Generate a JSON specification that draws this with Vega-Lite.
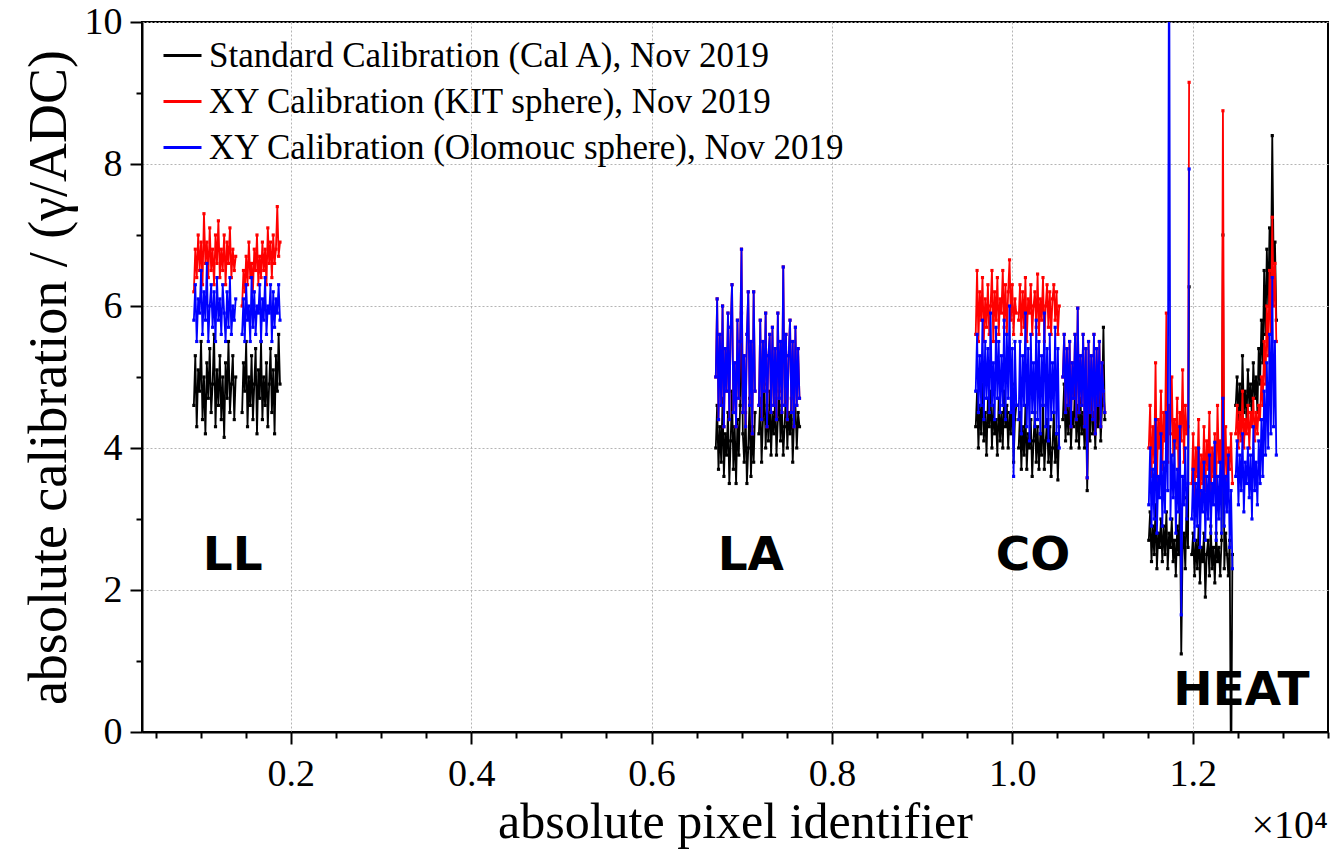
{
"$schema": "https://vega.github.io/schema/vega-lite/v6.json",
"width": 1186, "height": 710,
"autosize": {"type": "none"},
"padding": {"left": 142, "top": 22, "right": 13, "bottom": 128},
"background": "white",
"config": {"view": {"stroke": "black", "strokeWidth": 2}, "font": "Liberation Serif"},
"datasets": {"cal": [
{"s":"LL1","x":925,"k":4.6,"r":6.2,"b":5.8},{"s":"LL1","x":941,"k":5.3,"r":6.8,"b":6.3},{"s":"LL1","x":957,"k":4.3,"r":6.4,"b":5.5},{"s":"LL1","x":973,"k":5.1,"r":7.0,"b":6.1},{"s":"LL1","x":989,"k":4.8,"r":6.5,"b":5.9},{"s":"LL1","x":1005,"k":5.5,"r":6.9,"b":6.5},{"s":"LL1","x":1021,"k":4.4,"r":6.3,"b":5.6},{"s":"LL1","x":1037,"k":5.0,"r":7.3,"b":6.2},{"s":"LL1","x":1053,"k":4.2,"r":6.6,"b":5.8},{"s":"LL1","x":1069,"k":5.2,"r":6.9,"b":6.6},
{"s":"LL1","x":1085,"k":4.7,"r":6.4,"b":5.5},{"s":"LL1","x":1101,"k":5.4,"r":7.1,"b":6.0},{"s":"LL1","x":1117,"k":4.5,"r":6.5,"b":6.3},{"s":"LL1","x":1133,"k":4.9,"r":6.8,"b":5.7},{"s":"LL1","x":1149,"k":5.6,"r":6.3,"b":6.2},{"s":"LL1","x":1165,"k":4.3,"r":7.0,"b":5.5},{"s":"LL1","x":1181,"k":5.1,"r":6.6,"b":6.4},{"s":"LL1","x":1197,"k":4.6,"r":7.2,"b":5.8},{"s":"LL1","x":1213,"k":5.3,"r":6.4,"b":6.1},{"s":"LL1","x":1229,"k":4.4,"r":6.8,"b":5.6},
{"s":"LL1","x":1245,"k":5.0,"r":6.5,"b":6.3},{"s":"LL1","x":1261,"k":4.15,"r":7.0,"b":5.9},{"s":"LL1","x":1277,"k":5.2,"r":6.3,"b":5.5},{"s":"LL1","x":1293,"k":4.7,"r":6.9,"b":6.2},{"s":"LL1","x":1309,"k":5.5,"r":6.6,"b":5.7},{"s":"LL1","x":1325,"k":4.5,"r":7.1,"b":6.4},{"s":"LL1","x":1341,"k":4.9,"r":6.4,"b":5.6},{"s":"LL1","x":1357,"k":5.3,"r":6.8,"b":6.0},{"s":"LL1","x":1373,"k":4.4,"r":6.5,"b":5.8},{"s":"LL1","x":1389,"k":5.0,"r":6.7,"b":6.1},
{"s":"LL2","x":1460,"k":4.5,"r":6.0,"b":5.6},{"s":"LL2","x":1475,"k":5.2,"r":6.5,"b":6.1},{"s":"LL2","x":1490,"k":4.8,"r":6.2,"b":5.5},{"s":"LL2","x":1505,"k":5.5,"r":6.7,"b":6.3},{"s":"LL2","x":1520,"k":4.3,"r":6.3,"b":5.8},{"s":"LL2","x":1535,"k":5.0,"r":6.9,"b":6.0},{"s":"LL2","x":1550,"k":4.6,"r":6.4,"b":5.5},{"s":"LL2","x":1565,"k":5.3,"r":6.6,"b":6.4},{"s":"LL2","x":1580,"k":4.4,"r":6.2,"b":5.7},{"s":"LL2","x":1595,"k":4.9,"r":6.8,"b":6.2},
{"s":"LL2","x":1610,"k":5.4,"r":6.5,"b":5.6},{"s":"LL2","x":1625,"k":4.2,"r":7.0,"b":6.0},{"s":"LL2","x":1640,"k":5.1,"r":6.3,"b":5.9},{"s":"LL2","x":1655,"k":4.7,"r":6.7,"b":6.3},{"s":"LL2","x":1670,"k":5.5,"r":6.4,"b":5.5},{"s":"LL2","x":1685,"k":4.4,"r":6.9,"b":6.1},{"s":"LL2","x":1700,"k":5.0,"r":6.5,"b":5.8},{"s":"LL2","x":1715,"k":4.6,"r":6.8,"b":6.4},{"s":"LL2","x":1730,"k":5.2,"r":6.3,"b":5.6},{"s":"LL2","x":1745,"k":4.3,"r":7.1,"b":6.0},
{"s":"LL2","x":1760,"k":4.9,"r":6.6,"b":5.9},{"s":"LL2","x":1775,"k":5.4,"r":6.9,"b":6.3},{"s":"LL2","x":1790,"k":4.5,"r":6.4,"b":5.5},{"s":"LL2","x":1805,"k":5.1,"r":7.0,"b":6.2},{"s":"LL2","x":1820,"k":4.2,"r":6.6,"b":5.7},{"s":"LL2","x":1835,"k":5.3,"r":6.8,"b":6.1},{"s":"LL2","x":1850,"k":4.8,"r":7.4,"b":5.9},{"s":"LL2","x":1865,"k":5.6,"r":6.7,"b":6.3},{"s":"LL2","x":1880,"k":4.9,"r":6.9,"b":5.8},
{"s":"LA1","x":6712,"k":4.0,"r":5.0,"b":5.0},{"s":"LA1","x":6727,"k":4.6,"r":6.1,"b":6.1},{"s":"LA1","x":6742,"k":3.7,"r":4.4,"b":4.4},{"s":"LA1","x":6757,"k":4.3,"r":5.6,"b":5.6},{"s":"LA1","x":6772,"k":3.8,"r":4.6,"b":4.6},{"s":"LA1","x":6787,"k":4.7,"r":6.0,"b":6.0},{"s":"LA1","x":6802,"k":3.6,"r":4.3,"b":4.3},{"s":"LA1","x":6817,"k":4.2,"r":5.4,"b":5.4},{"s":"LA1","x":6832,"k":3.9,"r":4.8,"b":4.8},{"s":"LA1","x":6847,"k":4.5,"r":5.9,"b":5.9},
{"s":"LA1","x":6862,"k":3.5,"r":4.4,"b":4.4},{"s":"LA1","x":6877,"k":4.1,"r":5.7,"b":5.7},{"s":"LA1","x":6892,"k":4.8,"r":6.3,"b":6.3},{"s":"LA1","x":6907,"k":3.7,"r":4.5,"b":4.5},{"s":"LA1","x":6922,"k":4.3,"r":5.2,"b":5.2},{"s":"LA1","x":6937,"k":3.5,"r":4.3,"b":4.3},{"s":"LA1","x":6952,"k":4.4,"r":5.8,"b":5.8},{"s":"LA1","x":6967,"k":3.9,"r":4.7,"b":4.7},{"s":"LA1","x":6982,"k":4.6,"r":5.5,"b":5.5},{"s":"LA1","x":6997,"k":5.9,"r":6.8,"b":6.8},
{"s":"LA1","x":7012,"k":4.2,"r":4.5,"b":4.5},{"s":"LA1","x":7027,"k":3.8,"r":5.3,"b":5.3},{"s":"LA1","x":7042,"k":4.5,"r":4.3,"b":4.3},{"s":"LA1","x":7057,"k":3.5,"r":5.6,"b":5.6},{"s":"LA1","x":7072,"k":4.0,"r":6.2,"b":6.2},{"s":"LA1","x":7087,"k":4.7,"r":4.6,"b":4.6},{"s":"LA1","x":7102,"k":3.6,"r":5.5,"b":5.5},{"s":"LA1","x":7117,"k":4.3,"r":4.2,"b":4.2},{"s":"LA1","x":7132,"k":3.8,"r":6.2,"b":6.2},{"s":"LA1","x":7147,"k":4.5,"r":4.8,"b":4.8},
{"s":"LA2","x":7190,"k":4.2,"r":4.6,"b":4.6},{"s":"LA2","x":7205,"k":4.7,"r":5.8,"b":5.8},{"s":"LA2","x":7220,"k":3.8,"r":4.4,"b":4.4},{"s":"LA2","x":7235,"k":4.4,"r":5.5,"b":5.5},{"s":"LA2","x":7250,"k":4.9,"r":4.8,"b":4.8},{"s":"LA2","x":7265,"k":4.0,"r":5.9,"b":5.9},{"s":"LA2","x":7280,"k":4.6,"r":4.3,"b":4.3},{"s":"LA2","x":7295,"k":4.1,"r":5.3,"b":5.3},{"s":"LA2","x":7310,"k":4.8,"r":5.6,"b":5.6},{"s":"LA2","x":7325,"k":3.9,"r":4.5,"b":4.5},
{"s":"LA2","x":7340,"k":4.5,"r":5.7,"b":5.7},{"s":"LA2","x":7355,"k":4.2,"r":4.6,"b":4.6},{"s":"LA2","x":7370,"k":4.7,"r":5.4,"b":5.4},{"s":"LA2","x":7385,"k":3.9,"r":4.4,"b":4.4},{"s":"LA2","x":7400,"k":4.4,"r":5.9,"b":5.9},{"s":"LA2","x":7415,"k":4.8,"r":4.7,"b":4.7},{"s":"LA2","x":7430,"k":4.1,"r":5.5,"b":5.5},{"s":"LA2","x":7445,"k":4.6,"r":4.5,"b":4.5},{"s":"LA2","x":7460,"k":3.9,"r":6.55,"b":6.55},{"s":"LA2","x":7475,"k":4.3,"r":4.6,"b":4.6},
{"s":"LA2","x":7490,"k":4.8,"r":5.6,"b":5.6},{"s":"LA2","x":7505,"k":4.0,"r":4.4,"b":4.4},{"s":"LA2","x":7520,"k":4.5,"r":5.3,"b":5.3},{"s":"LA2","x":7535,"k":4.2,"r":5.8,"b":5.8},{"s":"LA2","x":7550,"k":4.7,"r":4.5,"b":4.5},{"s":"LA2","x":7565,"k":3.8,"r":5.5,"b":5.5},{"s":"LA2","x":7580,"k":4.4,"r":4.3,"b":4.3},{"s":"LA2","x":7595,"k":4.6,"r":5.7,"b":5.7},{"s":"LA2","x":7610,"k":4.0,"r":4.6,"b":4.6},{"s":"LA2","x":7625,"k":4.5,"r":5.4,"b":5.4},{"s":"LA2","x":7640,"k":4.3,"r":4.7,"b":4.7},
{"s":"CO1","x":9594,"k":4.3,"r":5.6,"b":4.8},{"s":"CO1","x":9609,"k":4.8,"r":6.5,"b":5.6},{"s":"CO1","x":9624,"k":4.0,"r":5.5,"b":4.5},{"s":"CO1","x":9639,"k":4.6,"r":6.2,"b":5.3},{"s":"CO1","x":9654,"k":4.2,"r":5.8,"b":4.6},{"s":"CO1","x":9669,"k":4.9,"r":6.4,"b":5.8},{"s":"CO1","x":9684,"k":4.1,"r":5.5,"b":4.4},{"s":"CO1","x":9699,"k":4.5,"r":6.1,"b":5.5},{"s":"CO1","x":9714,"k":3.9,"r":5.7,"b":4.7},{"s":"CO1","x":9729,"k":4.7,"r":6.3,"b":5.4},
{"s":"CO1","x":9744,"k":4.3,"r":5.6,"b":4.5},{"s":"CO1","x":9759,"k":4.8,"r":6.0,"b":5.9},{"s":"CO1","x":9774,"k":4.0,"r":6.5,"b":4.6},{"s":"CO1","x":9789,"k":4.6,"r":5.5,"b":5.2},{"s":"CO1","x":9804,"k":4.2,"r":6.2,"b":4.4},{"s":"CO1","x":9819,"k":4.4,"r":5.8,"b":5.7},{"s":"CO1","x":9834,"k":3.9,"r":6.4,"b":4.7},{"s":"CO1","x":9849,"k":4.7,"r":5.6,"b":5.5},{"s":"CO1","x":9864,"k":4.1,"r":6.1,"b":4.5},{"s":"CO1","x":9879,"k":4.5,"r":5.9,"b":5.3},
{"s":"CO1","x":9894,"k":4.0,"r":6.5,"b":4.6},{"s":"CO1","x":9909,"k":4.8,"r":5.7,"b":5.8},{"s":"CO1","x":9924,"k":4.3,"r":6.3,"b":4.4},{"s":"CO1","x":9939,"k":4.6,"r":5.6,"b":5.6},{"s":"CO1","x":9954,"k":4.0,"r":6.2,"b":4.7},{"s":"CO1","x":9969,"k":4.5,"r":6.65,"b":6.0},{"s":"CO1","x":9984,"k":4.2,"r":5.8,"b":4.5},{"s":"CO1","x":9999,"k":4.9,"r":6.3,"b":5.4},{"s":"CO1","x":10014,"k":3.8,"r":5.6,"b":3.6},{"s":"CO1","x":10029,"k":4.4,"r":6.1,"b":5.5},{"s":"CO1","x":10044,"k":4.6,"r":5.9,"b":4.6},
{"s":"CO2","x":10070,"k":4.0,"r":5.8,"b":4.4},{"s":"CO2","x":10085,"k":4.5,"r":6.3,"b":5.5},{"s":"CO2","x":10100,"k":3.7,"r":5.6,"b":4.2},{"s":"CO2","x":10115,"k":4.3,"r":6.2,"b":5.3},{"s":"CO2","x":10130,"k":3.9,"r":5.7,"b":4.6},{"s":"CO2","x":10145,"k":4.6,"r":6.4,"b":5.9},{"s":"CO2","x":10160,"k":3.7,"r":5.5,"b":4.3},{"s":"CO2","x":10175,"k":4.2,"r":6.1,"b":5.4},{"s":"CO2","x":10190,"k":4.0,"r":5.9,"b":4.1},{"s":"CO2","x":10205,"k":4.4,"r":6.3,"b":5.6},
{"s":"CO2","x":10220,"k":3.6,"r":5.6,"b":4.5},{"s":"CO2","x":10235,"k":4.1,"r":6.0,"b":5.2},{"s":"CO2","x":10250,"k":4.5,"r":6.2,"b":4.3},{"s":"CO2","x":10265,"k":3.8,"r":5.7,"b":5.8},{"s":"CO2","x":10280,"k":4.3,"r":6.45,"b":4.4},{"s":"CO2","x":10295,"k":3.7,"r":5.6,"b":5.5},{"s":"CO2","x":10310,"k":4.2,"r":6.1,"b":4.2},{"s":"CO2","x":10325,"k":3.9,"r":5.8,"b":5.3},{"s":"CO2","x":10340,"k":4.6,"r":6.4,"b":4.6},{"s":"CO2","x":10355,"k":3.7,"r":5.5,"b":5.9},
{"s":"CO2","x":10370,"k":4.1,"r":6.0,"b":4.3},{"s":"CO2","x":10385,"k":4.4,"r":6.3,"b":5.4},{"s":"CO2","x":10400,"k":3.8,"r":5.7,"b":4.1},{"s":"CO2","x":10415,"k":4.3,"r":6.2,"b":5.6},{"s":"CO2","x":10430,"k":3.6,"r":5.6,"b":4.4},{"s":"CO2","x":10445,"k":4.0,"r":6.1,"b":5.2},{"s":"CO2","x":10460,"k":4.5,"r":6.3,"b":4.5},{"s":"CO2","x":10475,"k":3.8,"r":5.8,"b":5.7},{"s":"CO2","x":10490,"k":4.2,"r":6.2,"b":4.2},{"s":"CO2","x":10505,"k":3.55,"r":5.6,"b":5.4},{"s":"CO2","x":10520,"k":4.3,"r":6.0,"b":4.0},
{"s":"CO3","x":10560,"k":4.4,"r":5.0,"b":5.0},{"s":"CO3","x":10575,"k":4.9,"r":5.6,"b":5.6},{"s":"CO3","x":10590,"k":4.1,"r":4.5,"b":4.5},{"s":"CO3","x":10605,"k":4.6,"r":5.4,"b":5.4},{"s":"CO3","x":10620,"k":4.2,"r":4.6,"b":4.6},{"s":"CO3","x":10635,"k":4.8,"r":5.5,"b":5.5},{"s":"CO3","x":10650,"k":4.0,"r":4.3,"b":4.3},{"s":"CO3","x":10665,"k":4.5,"r":5.2,"b":5.2},{"s":"CO3","x":10680,"k":4.3,"r":4.7,"b":4.7},{"s":"CO3","x":10695,"k":4.9,"r":5.6,"b":5.6},
{"s":"CO3","x":10710,"k":4.1,"r":4.4,"b":4.4},{"s":"CO3","x":10725,"k":4.6,"r":5.97,"b":5.97},{"s":"CO3","x":10740,"k":4.0,"r":4.5,"b":4.5},{"s":"CO3","x":10755,"k":4.7,"r":5.3,"b":5.3},{"s":"CO3","x":10770,"k":4.2,"r":4.6,"b":4.6},{"s":"CO3","x":10785,"k":4.5,"r":5.6,"b":5.6},{"s":"CO3","x":10800,"k":4.0,"r":4.3,"b":4.3},{"s":"CO3","x":10815,"k":4.8,"r":5.4,"b":5.4},{"s":"CO3","x":10830,"k":3.4,"r":3.58,"b":3.58},{"s":"CO3","x":10845,"k":4.6,"r":5.5,"b":5.5},
{"s":"CO3","x":10860,"k":4.1,"r":4.5,"b":4.5},{"s":"CO3","x":10875,"k":4.9,"r":5.3,"b":5.3},{"s":"CO3","x":10890,"k":4.2,"r":4.4,"b":4.4},{"s":"CO3","x":10905,"k":4.5,"r":5.6,"b":5.6},{"s":"CO3","x":10920,"k":4.0,"r":4.2,"b":4.2},{"s":"CO3","x":10935,"k":4.7,"r":5.4,"b":5.4},{"s":"CO3","x":10950,"k":4.3,"r":4.6,"b":4.6},{"s":"CO3","x":10965,"k":4.8,"r":5.5,"b":5.5},{"s":"CO3","x":10980,"k":4.1,"r":4.3,"b":4.3},{"s":"CO3","x":10995,"k":4.6,"r":5.2,"b":5.2},{"s":"CO3","x":11010,"k":5.7,"r":4.8,"b":4.8},{"s":"CO3","x":11025,"k":4.4,"r":4.5,"b":4.5},
{"s":"HE1","x":11513,"k":2.7,"r":4.0,"b":3.2},{"s":"HE1","x":11528,"k":3.1,"r":4.6,"b":4.0},{"s":"HE1","x":11543,"k":2.4,"r":3.6,"b":2.9},{"s":"HE1","x":11558,"k":2.9,"r":4.3,"b":3.7},{"s":"HE1","x":11573,"k":2.5,"r":3.8,"b":3.0},{"s":"HE1","x":11588,"k":3.2,"r":5.2,"b":4.4},{"s":"HE1","x":11603,"k":2.3,"r":3.5,"b":2.8},{"s":"HE1","x":11618,"k":2.8,"r":4.4,"b":3.6},{"s":"HE1","x":11633,"k":2.6,"r":4.0,"b":3.3},{"s":"HE1","x":11648,"k":3.0,"r":4.8,"b":4.2},
{"s":"HE1","x":11663,"k":2.4,"r":3.7,"b":2.9},{"s":"HE1","x":11678,"k":2.9,"r":4.5,"b":3.8},{"s":"HE1","x":11693,"k":2.5,"r":4.1,"b":3.1},{"s":"HE1","x":11708,"k":3.1,"r":5.9,"b":4.5},{"s":"HE1","x":11723,"k":2.3,"r":3.8,"b":3.4},{"s":"HE1","x":11738,"k":2.8,"r":4.6,"b":12},{"s":"HE1","x":11753,"k":2.6,"r":4.2,"b":3.0},{"s":"HE1","x":11768,"k":3.0,"r":5.0,"b":3.9},{"s":"HE1","x":11783,"k":2.4,"r":3.9,"b":3.3},{"s":"HE1","x":11798,"k":2.7,"r":4.4,"b":4.1},
{"s":"HE1","x":11813,"k":2.2,"r":4.0,"b":2.8},{"s":"HE1","x":11828,"k":2.9,"r":4.7,"b":3.7},{"s":"HE1","x":11843,"k":2.5,"r":3.6,"b":3.1},{"s":"HE1","x":11858,"k":3.2,"r":4.5,"b":4.3},{"s":"HE1","x":11873,"k":1.1,"r":4.1,"b":1.65},{"s":"HE1","x":11888,"k":2.6,"r":5.1,"b":3.6},{"s":"HE1","x":11903,"k":2.8,"r":3.8,"b":3.2},{"s":"HE1","x":11918,"k":2.3,"r":4.6,"b":4.0},{"s":"HE1","x":11933,"k":3.3,"r":4.2,"b":3.0},{"s":"HE1","x":11948,"k":2.6,"r":4.3,"b":3.5},{"s":"HE1","x":11960,"k":6.27,"r":9.15,"b":7.93},
{"s":"HE2","x":11990,"k":2.5,"r":3.5,"b":3.0},{"s":"HE2","x":12005,"k":2.8,"r":4.2,"b":3.7},{"s":"HE2","x":12020,"k":2.2,"r":3.3,"b":2.7},{"s":"HE2","x":12035,"k":2.7,"r":4.0,"b":3.5},{"s":"HE2","x":12050,"k":2.3,"r":3.6,"b":2.9},{"s":"HE2","x":12065,"k":2.9,"r":4.4,"b":4.0},{"s":"HE2","x":12080,"k":2.1,"r":3.2,"b":2.6},{"s":"HE2","x":12095,"k":2.6,"r":3.9,"b":3.4},{"s":"HE2","x":12110,"k":2.4,"r":3.5,"b":3.1},{"s":"HE2","x":12125,"k":2.8,"r":4.3,"b":3.8},
{"s":"HE2","x":12140,"k":1.9,"r":3.4,"b":2.7},{"s":"HE2","x":12155,"k":2.5,"r":4.1,"b":3.6},{"s":"HE2","x":12170,"k":2.7,"r":3.7,"b":3.0},{"s":"HE2","x":12185,"k":2.2,"r":4.5,"b":3.9},{"s":"HE2","x":12200,"k":2.9,"r":3.3,"b":2.8},{"s":"HE2","x":12215,"k":2.3,"r":4.0,"b":3.5},{"s":"HE2","x":12230,"k":2.6,"r":3.6,"b":3.2},{"s":"HE2","x":12245,"k":2.1,"r":4.2,"b":4.08},{"s":"HE2","x":12260,"k":2.8,"r":3.4,"b":2.7},{"s":"HE2","x":12275,"k":2.4,"r":4.6,"b":3.6},
{"s":"HE2","x":12290,"k":2.6,"r":3.8,"b":3.0},{"s":"HE2","x":12305,"k":2.2,"r":4.1,"b":3.8},{"s":"HE2","x":12320,"k":2.7,"r":3.5,"b":2.8},{"s":"HE2","x":12335,"k":7.0,"r":8.75,"b":4.7},{"s":"HE2","x":12350,"k":2.3,"r":3.6,"b":2.9},{"s":"HE2","x":12365,"k":2.8,"r":4.3,"b":3.6},{"s":"HE2","x":12380,"k":2.5,"r":3.4,"b":3.1},{"s":"HE2","x":12395,"k":2.2,"r":4.0,"b":3.9},{"s":"HE2","x":12410,"k":2.7,"r":3.7,"b":2.6},{"s":"HE2","x":12425,"k":-1,"r":4.2,"b":3.4},{"s":"HE2","x":12440,"k":2.5,"r":3.5,"b":2.3},
{"s":"HE3","x":12477,"k":4.6,"r":4.2,"b":3.6},{"s":"HE3","x":12492,"k":5.0,"r":4.6,"b":4.1},{"s":"HE3","x":12507,"k":4.4,"r":4.0,"b":3.2},{"s":"HE3","x":12522,"k":4.9,"r":4.5,"b":3.9},{"s":"HE3","x":12537,"k":4.3,"r":4.1,"b":3.4},{"s":"HE3","x":12552,"k":5.3,"r":4.8,"b":4.2},{"s":"HE3","x":12567,"k":4.5,"r":4.0,"b":3.1},{"s":"HE3","x":12582,"k":4.8,"r":4.4,"b":3.8},{"s":"HE3","x":12597,"k":4.4,"r":4.2,"b":3.5},{"s":"HE3","x":12612,"k":5.1,"r":4.6,"b":4.0},
{"s":"HE3","x":12627,"k":4.6,"r":4.0,"b":3.3},{"s":"HE3","x":12642,"k":4.9,"r":4.5,"b":3.9},{"s":"HE3","x":12657,"k":4.4,"r":4.3,"b":3.0},{"s":"HE3","x":12672,"k":5.2,"r":4.7,"b":4.3},{"s":"HE3","x":12687,"k":4.7,"r":4.1,"b":3.4},{"s":"HE3","x":12702,"k":5.0,"r":4.5,"b":3.8},{"s":"HE3","x":12717,"k":4.5,"r":4.2,"b":3.2},{"s":"HE3","x":12732,"k":5.4,"r":4.6,"b":4.1},{"s":"HE3","x":12747,"k":4.9,"r":4.4,"b":3.5},{"s":"HE3","x":12762,"k":5.8,"r":5.0,"b":4.4},
{"s":"HE3","x":12777,"k":5.2,"r":4.6,"b":3.6},{"s":"HE3","x":12792,"k":6.5,"r":5.5,"b":4.8},{"s":"HE3","x":12807,"k":5.6,"r":4.9,"b":3.9},{"s":"HE3","x":12822,"k":6.8,"r":6.0,"b":5.2},{"s":"HE3","x":12837,"k":6.0,"r":5.3,"b":4.0},{"s":"HE3","x":12852,"k":7.1,"r":6.5,"b":5.6},{"s":"HE3","x":12867,"k":6.3,"r":5.6,"b":4.2},{"s":"HE3","x":12882,"k":8.4,"r":7.25,"b":6.4},{"s":"HE3","x":12897,"k":6.6,"r":6.0,"b":4.3},{"s":"HE3","x":12912,"k":6.9,"r":6.6,"b":5.5},{"s":"HE3","x":12927,"k":5.8,"r":5.5,"b":3.9}
]},
"data": {"name": "cal"},
"encoding": {
  "x": {"field": "x", "type": "quantitative",
    "scale": {"domain": [350, 13500], "nice": false, "zero": false},
    "axis": {
      "title": "absolute pixel identifier",
      "values": [500,1000,1500,2000,2500,3000,3500,4000,4500,5000,5500,6000,6500,7000,7500,8000,8500,9000,9500,10000,10500,11000,11500,12000,12500,13000,13500],
      "labelExpr": "datum.value % 2000 === 0 ? format(datum.value / 10000, '.1f') : ''",
      "tickSize": {"condition": {"test": "datum.value % 2000 === 0", "value": 12}, "value": 6},
      "tickWidth": 2, "tickColor": "black",
      "domainColor": "black", "domainWidth": 2,
      "grid": true,
      "gridOpacity": {"condition": {"test": "datum.value % 2000 === 0", "value": 1}, "value": 0},
      "gridColor": "#b4b4b4", "gridDash": [2, 2], "gridWidth": 1,
      "labelFont": "Liberation Serif", "labelFontSize": 38, "labelColor": "black",
      "labelPadding": 11, "labelOverlap": false, "labelFlush": false,
      "titleFont": "Liberation Serif", "titleFontSize": 50, "titleFontWeight": "normal", "titleColor": "black", "titlePadding": 4
    }
  }
},
"layer": [
  {"layer": [
    {"mark": {"type": "line", "clip": true, "strokeWidth": 1.8},
     "encoding": {
       "y": {"field": "k", "type": "quantitative",
         "scale": {"domain": [0, 10], "nice": false, "zero": false},
         "axis": {
           "title": "absolute calibration / (γ/ADC)",
           "values": [0,0.5,1,1.5,2,2.5,3,3.5,4,4.5,5,5.5,6,6.5,7,7.5,8,8.5,9,9.5,10],
           "labelExpr": "datum.value % 2 === 0 ? format(datum.value, 'd') : ''",
           "tickSize": {"condition": {"test": "datum.value % 2 === 0", "value": 12}, "value": 6},
           "tickWidth": 2, "tickColor": "black",
           "domainColor": "black", "domainWidth": 2,
           "grid": true,
           "gridOpacity": {"condition": {"test": "datum.value % 2 === 0", "value": 1}, "value": 0},
           "gridColor": "#b4b4b4", "gridDash": [2, 2], "gridWidth": 1,
           "labelFont": "Liberation Serif", "labelFontSize": 38, "labelColor": "black",
           "labelPadding": 8, "labelOverlap": false, "labelFlush": false,
           "titleFont": "Liberation Serif", "titleFontSize": 54, "titleFontWeight": "normal", "titleColor": "black", "titlePadding": 8
         }},
       "color": {"datum": "Standard Calibration (Cal A), Nov 2019", "type": "nominal",
         "scale": {"domain": ["Standard Calibration (Cal A), Nov 2019", "XY Calibration (KIT sphere), Nov 2019", "XY Calibration (Olomouc sphere), Nov 2019"], "range": ["#000000", "#ff0000", "#0000ff"]},
         "legend": {"orient": "none", "legendX": 20, "legendY": 13, "title": null, "padding": 0,
           "symbolType": "stroke", "symbolSize": 1444, "symbolStrokeWidth": 3,
           "labelFont": "Liberation Serif", "labelFontSize": 35, "labelColor": "black", "labelOffset": 6,
           "rowPadding": 7, "labelLimit": 0}},
       "detail": {"field": "s"}
     }},
    {"mark": {"type": "square", "clip": true, "size": 10, "color": "#000000", "opacity": 1},
     "encoding": {"y": {"field": "k", "type": "quantitative", "scale": {"domain": [0, 10], "nice": false, "zero": false}}}}
  ]},
  {"layer": [
    {"mark": {"type": "line", "clip": true, "strokeWidth": 1.8},
     "encoding": {
       "y": {"field": "r", "type": "quantitative", "scale": {"domain": [0, 10], "nice": false, "zero": false}},
       "color": {"datum": "XY Calibration (KIT sphere), Nov 2019", "type": "nominal"},
       "detail": {"field": "s"}
     }},
    {"mark": {"type": "square", "clip": true, "size": 10, "color": "#ff0000", "opacity": 1},
     "encoding": {"y": {"field": "r", "type": "quantitative", "scale": {"domain": [0, 10], "nice": false, "zero": false}}}}
  ]},
  {"layer": [
    {"mark": {"type": "line", "clip": true, "strokeWidth": 1.8},
     "encoding": {
       "y": {"field": "b", "type": "quantitative", "scale": {"domain": [0, 10], "nice": false, "zero": false}},
       "color": {"datum": "XY Calibration (Olomouc sphere), Nov 2019", "type": "nominal"},
       "detail": {"field": "s"}
     }},
    {"mark": {"type": "square", "clip": true, "size": 10, "color": "#0000ff", "opacity": 1},
     "encoding": {"y": {"field": "b", "type": "quantitative", "scale": {"domain": [0, 10], "nice": false, "zero": false}}}}
  ]},
  {"data": {"values": [
     {"x": 1357, "y": 2.28, "t": "LL"},
     {"x": 7100, "y": 2.28, "t": "LA"},
     {"x": 10230, "y": 2.28, "t": "CO"},
     {"x": 12540, "y": 0.38, "t": "HEAT"}
   ]},
   "mark": {"type": "text", "font": "DejaVu Sans", "fontWeight": "bold", "fontSize": 47, "align": "center", "baseline": "alphabetic", "color": "black"},
   "encoding": {
     "y": {"field": "y", "type": "quantitative", "scale": {"domain": [0, 10], "nice": false, "zero": false}},
     "text": {"field": "t"}
   }},
  {"data": {"values": [{"x": 13500, "y": -1.49, "t": "×10⁴"}]},
   "mark": {"type": "text", "font": "Liberation Serif", "fontSize": 40, "align": "right", "baseline": "alphabetic", "color": "black", "clip": false},
   "encoding": {
     "y": {"field": "y", "type": "quantitative", "scale": {"domain": [0, 10], "nice": false, "zero": false}},
     "text": {"field": "t"}
   }}
]
}
